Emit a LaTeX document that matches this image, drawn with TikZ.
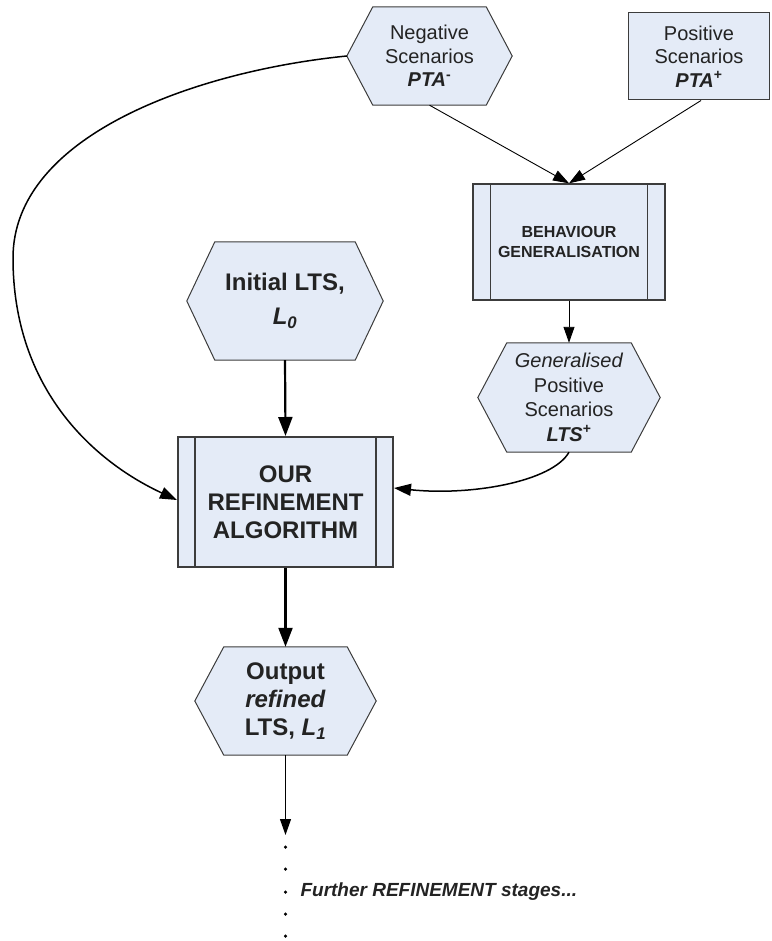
\documentclass[tikz,border=0pt]{standalone}
\usepackage{fontspec}
\setmainfont{Liberation Sans}
\usetikzlibrary{arrows.meta,backgrounds}

\definecolor{boxfill}{RGB}{228,235,247}
\definecolor{edge}{RGB}{60,60,60}
\definecolor{ink}{RGB}{35,35,35}

% hexagonal outline drawn behind a node: [line width]{node}{corner cut}
\newcommand\hexoutline[3][1pt]{%
  \begin{scope}[on background layer]
    \filldraw[fill=boxfill,draw=edge,line width=#1,line join=miter]
      (#2.west) -- ([xshift=#3]#2.north west) -- ([xshift=-#3]#2.north east)
      -- (#2.east) -- ([xshift=-#3]#2.south east) -- ([xshift=#3]#2.south west)
      -- cycle;
  \end{scope}}

% inner vertical bars of a predefined-process box: [line width]{node}{inset}
\newcommand\sidebars[3][1pt]{%
  \draw[draw=edge,line width=#1]
    ([xshift=#3]#2.north west) -- ([xshift=#3]#2.south west)
    ([xshift=-#3]#2.north east) -- ([xshift=-#3]#2.south east);}

\tikzset{
  hexnode/.style={inner sep=0pt, align=center, text=ink},
  procbox/.style={draw=edge, fill=boxfill, inner sep=0pt, align=center, text=ink},
  plainfont/.style={font=\fontsize{20}{23.5}\selectfont},
  bigfont/.style={font=\fontsize{24}{28}\selectfont\bfseries},
  thinarrow/.style={draw=black, line width=0.9pt,
    -{Triangle[length=16pt,width=11pt]}},
  curvearrow/.style={draw=black, line width=1.5pt,
    -{Triangle[length=17pt,width=12pt]}},
  thickarrow/.style={draw=black, line width=2.2pt,
    -{Triangle[length=19pt,width=14pt]}},
  dotmark/.style={circle, fill=black, inner sep=0pt, minimum size=3.5pt},
}

\begin{document}
\begin{tikzpicture}[x=1pt,y=-1pt]
\useasboundingbox (0,0) rectangle (771,941);

% ---- inputs ----
\node[hexnode,plainfont,minimum width=165pt,minimum height=98pt] (neg) at (429.5,56)
  {Negative\\Scenarios\\\textbf{\textit{PTA}}\textsuperscript{\textbf{-}}};
\hexoutline{neg}{26pt}

\node[procbox,plainfont,line width=1pt,minimum width=141pt,minimum height=87pt] (pos) at (699,56.5)
  {Positive\\Scenarios\\\textbf{\textit{PTA}}\textsuperscript{\textbf{+}}};

% ---- generalisation step ----
\node[procbox,line width=1.4pt,minimum width=192pt,minimum height=116pt,
      font=\fontsize{16}{20}\selectfont\bfseries] (bg) at (569,242)
  {BEHAVIOUR\\GENERALISATION};
\sidebars[1.2pt]{bg}{18pt}

\node[hexnode,font=\fontsize{20}{24.5}\selectfont,minimum width=182pt,minimum height=109pt] (gen) at (569,397.5)
  {\textit{Generalised}\\Positive\\Scenarios\\\textbf{\textit{LTS}}\textsuperscript{\textbf{+}}};
\hexoutline{gen}{29pt}

% ---- initial model ----
\node[hexnode,font=\fontsize{24}{34}\selectfont\bfseries,minimum width=196pt,minimum height=118pt] (init) at (285,301)
  {Initial LTS,\\\textit{L}\textsubscript{\textit{0}}};
\hexoutline{init}{28pt}

% ---- refinement ----
\node[procbox,bigfont,line width=2pt,minimum width=215pt,minimum height=130pt] (alg) at (285.5,502)
  {OUR\\REFINEMENT\\ALGORITHM};
\sidebars[2pt]{alg}{18pt}

\node[hexnode,bigfont,minimum width=181pt,minimum height=108pt] (out) at (285.5,701)
  {Output\\\textit{refined}\\LTS, \textit{L}\textsubscript{\textit{1}}};
\hexoutline{out}{29pt}

% ---- continuation ----
\coordinate (further) at (285.5,835);
\node[dotmark] (d1) at (285.5,847) {};
\node[dotmark] (d2) at (285.5,869) {};
\node[dotmark] (d3) at (285.5,892) {};
\node[dotmark] (d4) at (285.5,914) {};
\node[dotmark] (d5) at (285.5,936) {};
\node[anchor=west,text=ink,font=\fontsize{19}{22}\selectfont\bfseries\itshape] (stages) at (297,892)
  {Further REFINEMENT stages...};

% ---- connectors ----
\draw[thinarrow] (neg.south) -- (bg.north);
\draw[thinarrow] ([xshift=2pt]pos.south) -- (bg.north);
\draw[thinarrow] (bg.south) -- (gen.north);

\coordinate (lbend) at (13,258);
\draw[curvearrow] (neg.west) .. controls +(-150,15) and (13,135) .. (lbend)
  .. controls (13,390) and (95,462) .. ([yshift=2pt]alg.west);

\draw[curvearrow] (gen.south) .. controls (552,482) and (470,496) .. ([yshift=14pt]alg.east);

\draw[thickarrow] (init.south) -- (alg.north);
\draw[thickarrow] (alg.south) -- (out.north);
\draw[thinarrow,line width=1.2pt] (out.south) -- (further);
\end{tikzpicture}
\end{document}
